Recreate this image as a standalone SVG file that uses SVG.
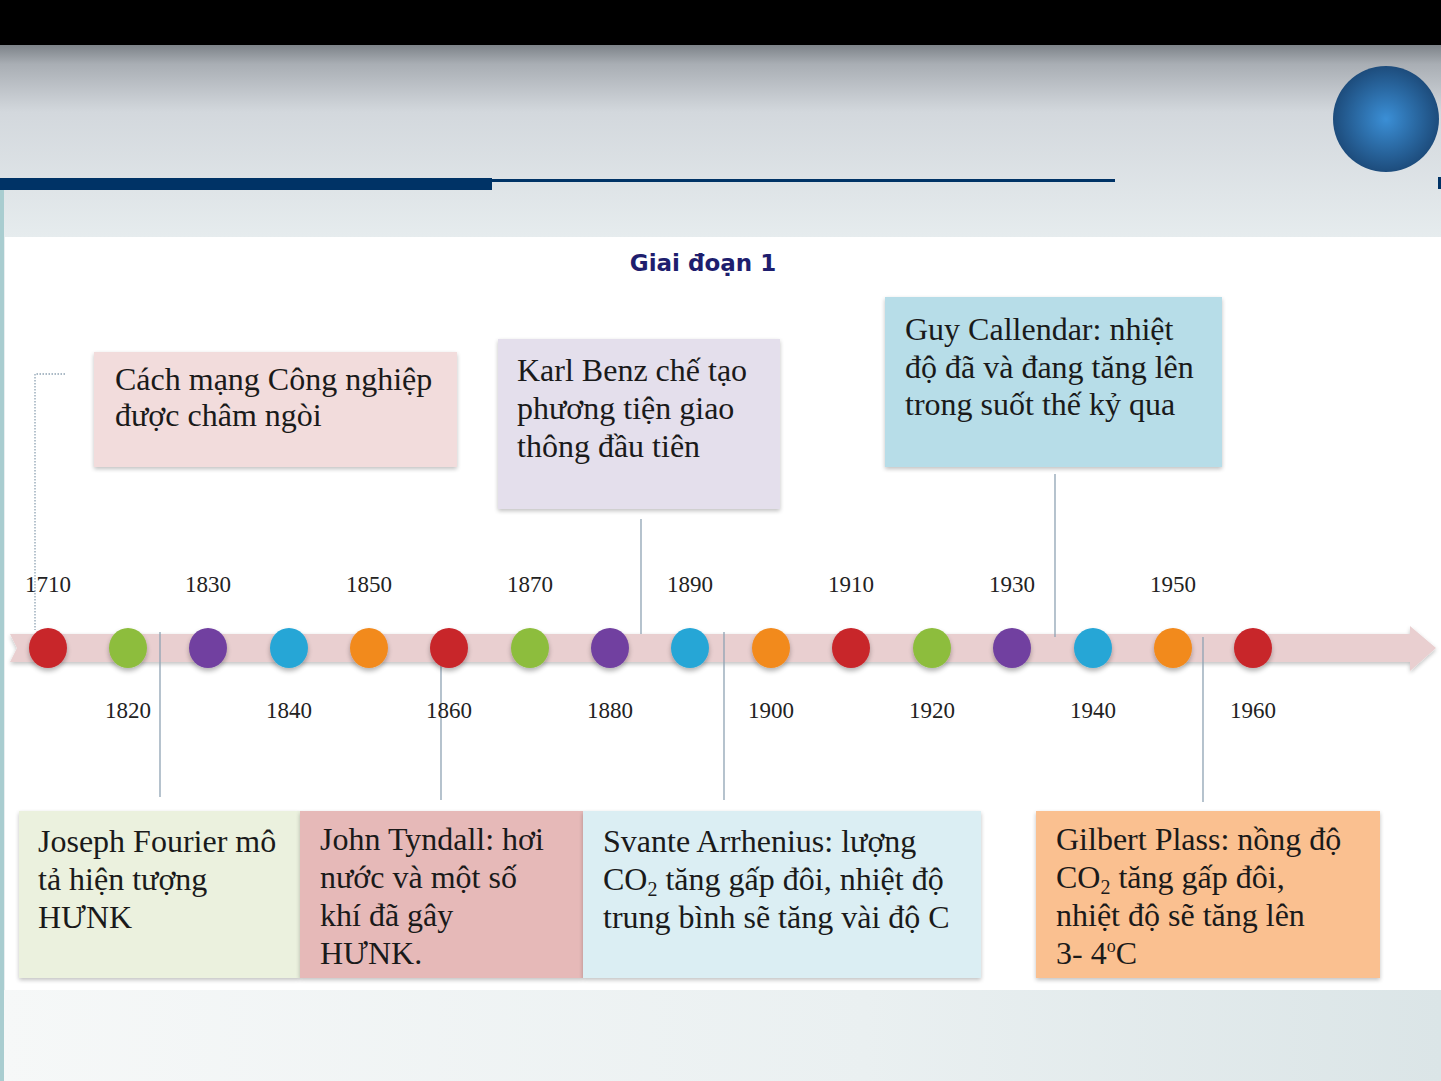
<svg xmlns="http://www.w3.org/2000/svg" width="1441" height="1081" viewBox="0 0 1441 1081">
<defs>
<linearGradient id="bgTop" x1="0" y1="0" x2="0" y2="1">
<stop offset="0" stop-color="#7d8389"/>
<stop offset="0.1" stop-color="#a9aeb4"/>
<stop offset="0.35" stop-color="#d3d8dd"/>
<stop offset="1" stop-color="#e6ecee"/>
</linearGradient>
<linearGradient id="bgBot" x1="0" y1="0" x2="1" y2="0">
<stop offset="0" stop-color="#f6f8f8"/>
<stop offset="0.6" stop-color="#eaf0f1"/>
<stop offset="1" stop-color="#dbe5e7"/>
</linearGradient>
<radialGradient id="ball" cx="0.5" cy="0.5" r="0.5">
<stop offset="0" stop-color="#3b8fd6"/>
<stop offset="1" stop-color="#1d4c7c"/>
</radialGradient>
<filter id="sh" x="-20%" y="-20%" width="140%" height="160%">
<feGaussianBlur in="SourceAlpha" stdDeviation="2"/>
<feOffset dy="2"/>
<feComponentTransfer><feFuncA type="linear" slope="0.25"/></feComponentTransfer>
<feMerge><feMergeNode/><feMergeNode in="SourceGraphic"/></feMerge>
</filter>
<filter id="dsh" x="-40%" y="-40%" width="180%" height="180%">
<feGaussianBlur in="SourceAlpha" stdDeviation="2.5"/>
<feOffset dy="3"/>
<feComponentTransfer><feFuncA type="linear" slope="0.3"/></feComponentTransfer>
<feMerge><feMergeNode/><feMergeNode in="SourceGraphic"/></feMerge>
</filter>
</defs>
<style>
.box text { font-family: "Liberation Serif", "Times New Roman", serif; font-size: 32px; fill: #1a1a1a; }
.yr { font-family: "Liberation Serif", "Times New Roman", serif; font-size: 23px; fill: #222; text-anchor: middle; }
.ln { stroke: #8ea2b3; stroke-width: 1.3; fill: none; }
.dot { filter: url(#dsh); }
.red { fill: #c8262c; }
.grn { fill: #8dbd3e; }
.pur { fill: #7141a0; }
.blu { fill: #28a6d6; }
.org { fill: #f28a1e; }
</style>

<!-- background -->
<rect x="0" y="0" width="1441" height="1081" fill="#e8eef0"/>
<rect x="0" y="45" width="1441" height="192" fill="url(#bgTop)"/>
<rect x="0" y="990" width="1441" height="91" fill="url(#bgBot)"/>
<rect x="0" y="0" width="1441" height="45" fill="#000"/>
<rect x="0" y="190" width="4" height="891" fill="#a9cdd0"/>
<rect x="0" y="178" width="492" height="12" fill="#003366"/>
<rect x="492" y="179" width="623" height="3" fill="#003366"/>
<rect x="1438" y="177" width="3" height="12" fill="#003366"/>
<circle cx="1386" cy="119" r="53" fill="url(#ball)"/>

<!-- white panel -->
<rect x="5" y="237" width="1436" height="753" fill="#ffffff"/>

<text x="703" y="271" text-anchor="middle" font-family="'DejaVu Sans', Verdana, sans-serif" font-weight="bold" font-size="23" fill="#1e1e6e">Giai đoạn 1</text>

<!-- timeline bar -->
<g id="timeline">
<polygon points="10,634 1410,634 1410,626 1436,648 1410,671 1410,662 10,662 17,648" fill="#e9cfd0" filter="url(#sh)"/>
</g>

<!-- connectors -->
<g id="connectors">
<polyline class="ln" points="65,374 35,374 35,630" stroke="#8a8a8a" stroke-dasharray="1.5 1.5"/>
<line class="ln" x1="160" y1="632" x2="160" y2="797"/>
<line class="ln" x1="441" y1="655" x2="441" y2="800"/>
<line class="ln" x1="641" y1="519" x2="641" y2="634"/>
<line class="ln" x1="724" y1="632" x2="724" y2="800"/>
<line class="ln" x1="1055" y1="474" x2="1055" y2="637"/>
<line class="ln" x1="1203" y1="637" x2="1203" y2="802"/>
</g>

<!-- dots -->
<g id="dots">
<ellipse class="dot red" cx="48" cy="648" rx="19" ry="20"/>
<ellipse class="dot grn" cx="128" cy="648" rx="19" ry="20"/>
<ellipse class="dot pur" cx="208" cy="648" rx="19" ry="20"/>
<ellipse class="dot blu" cx="289" cy="648" rx="19" ry="20"/>
<ellipse class="dot org" cx="369" cy="648" rx="19" ry="20"/>
<ellipse class="dot red" cx="449" cy="648" rx="19" ry="20"/>
<ellipse class="dot grn" cx="530" cy="648" rx="19" ry="20"/>
<ellipse class="dot pur" cx="610" cy="648" rx="19" ry="20"/>
<ellipse class="dot blu" cx="690" cy="648" rx="19" ry="20"/>
<ellipse class="dot org" cx="771" cy="648" rx="19" ry="20"/>
<ellipse class="dot red" cx="851" cy="648" rx="19" ry="20"/>
<ellipse class="dot grn" cx="932" cy="648" rx="19" ry="20"/>
<ellipse class="dot pur" cx="1012" cy="648" rx="19" ry="20"/>
<ellipse class="dot blu" cx="1093" cy="648" rx="19" ry="20"/>
<ellipse class="dot org" cx="1173" cy="648" rx="19" ry="20"/>
<ellipse class="dot red" cx="1253" cy="648" rx="19" ry="20"/>
</g>

<!-- year labels -->
<g id="years">
<text class="yr" x="48" y="592">1710</text>
<text class="yr" x="208" y="592">1830</text>
<text class="yr" x="369" y="592">1850</text>
<text class="yr" x="530" y="592">1870</text>
<text class="yr" x="690" y="592">1890</text>
<text class="yr" x="851" y="592">1910</text>
<text class="yr" x="1012" y="592">1930</text>
<text class="yr" x="1173" y="592">1950</text>
<text class="yr" x="128" y="718">1820</text>
<text class="yr" x="289" y="718">1840</text>
<text class="yr" x="449" y="718">1860</text>
<text class="yr" x="610" y="718">1880</text>
<text class="yr" x="771" y="718">1900</text>
<text class="yr" x="932" y="718">1920</text>
<text class="yr" x="1093" y="718">1940</text>
<text class="yr" x="1253" y="718">1960</text>
</g>

<!-- event boxes -->
<g id="cmcn" class="box">
<rect x="94" y="352" width="363" height="115" fill="#f2dcdc" filter="url(#sh)"/>
<text x="115" y="390">Cách mạng Công nghiệp</text>
<text x="115" y="426">được châm ngòi</text>
</g>

<g id="karlbenz" class="box">
<rect x="498" y="339" width="282" height="170" fill="#e4dfec" filter="url(#sh)"/>
<text x="517" y="381">Karl Benz chế tạo</text>
<text x="517" y="419">phương tiện giao</text>
<text x="517" y="457">thông đầu tiên</text>
</g>

<g id="callendar" class="box">
<rect x="885" y="297" width="337" height="170" fill="#b7dde8" filter="url(#sh)"/>
<text x="905" y="340">Guy Callendar: nhiệt</text>
<text x="905" y="378">độ đã và đang tăng lên</text>
<text x="905" y="415">trong suốt thế kỷ qua</text>
</g>

<g id="fourier" class="box">
<rect x="19" y="811" width="281" height="167" fill="#ebf1de" filter="url(#sh)"/>
<text x="38" y="852">Joseph Fourier mô</text>
<text x="38" y="890">tả hiện tượng</text>
<text x="38" y="928">HƯNK</text>
</g>

<g id="tyndall" class="box">
<rect x="300" y="811" width="283" height="167" fill="#e6b9b8" filter="url(#sh)"/>
<text x="320" y="850">John Tyndall: hơi</text>
<text x="320" y="888">nước và một số</text>
<text x="320" y="926">khí đã gây</text>
<text x="320" y="964">HƯNK.</text>
</g>

<g id="arrhenius" class="box">
<rect x="583" y="811" width="398" height="167" fill="#dbeef3" filter="url(#sh)"/>
<text x="603" y="852">Svante Arrhenius: lượng</text>
<text x="603" y="890">CO<tspan font-size="20" dy="6">2</tspan><tspan dy="-6"> tăng gấp đôi, nhiệt độ</tspan></text>
<text x="603" y="928">trung bình sẽ tăng vài độ C</text>
</g>

<g id="plass" class="box">
<rect x="1036" y="811" width="344" height="167" fill="#fac090" filter="url(#sh)"/>
<text x="1056" y="850">Gilbert Plass: nồng độ</text>
<text x="1056" y="888">CO<tspan font-size="20" dy="6">2</tspan><tspan dy="-6"> tăng gấp đôi,</tspan></text>
<text x="1056" y="926">nhiệt độ sẽ tăng lên</text>
<text x="1056" y="964">3- 4<tspan font-size="18" dy="-12">o</tspan><tspan dy="12">C</tspan></text>
</g>
</svg>
